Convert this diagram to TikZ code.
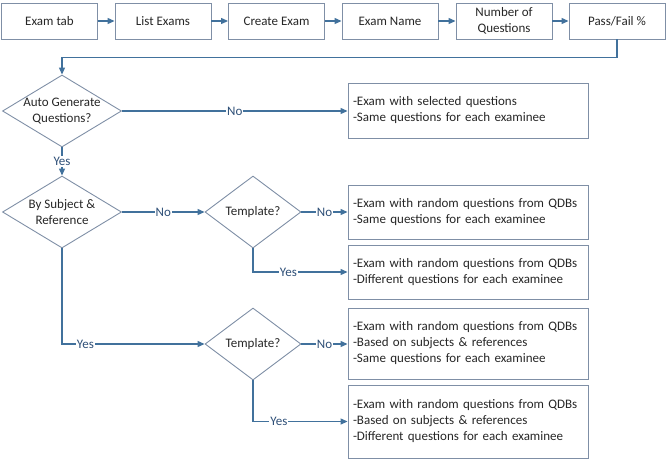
\documentclass[tikz,border=0pt]{standalone}
\usepackage{fontspec}
\setmainfont{Carlito}
\usetikzlibrary{shapes.geometric,arrows.meta}
\definecolor{boxline}{HTML}{7F8FA6}
\definecolor{conn}{HTML}{41719C}
\definecolor{lbl}{HTML}{2F5078}
\begin{document}
\begin{tikzpicture}[x=1pt,y=-1pt,
  every node/.style={font=\fontsize{13}{16}\selectfont, text=black!85},
  topbox/.style={draw=boxline, line width=0.9pt, minimum width=96pt, minimum height=36pt, inner sep=0pt, align=center},
  resbox/.style={draw=boxline, line width=0.9pt, minimum width=240pt, text width=230pt, inner xsep=5pt, inner ysep=0pt, align=left},
  dia/.style={draw=boxline, line width=0.9pt, shape=diamond, inner sep=0pt},
  arr/.style={draw=conn, line width=1.2pt, -{Triangle[length=7pt,width=6pt]}},
  lab/.style={fill=white, inner sep=1pt, text=lbl, font=\fontsize{13}{14}\selectfont}
]
\useasboundingbox (0,0) rectangle (667,459);
% top row
\node[topbox] (t1) at (49.5,21) {Exam tab};
\node[topbox] (t2) at (163,21) {List Exams};
\node[topbox] (t3) at (276.5,21) {Create Exam};
\node[topbox] (t4) at (390,21) {Exam Name};
\node[topbox] (t5) at (504,21) {Number of\\Questions};
\node[topbox] (t6) at (617,21) {Pass/Fail \%};
\draw[arr] (t1) -- (t2);
\draw[arr] (t2) -- (t3);
\draw[arr] (t3) -- (t4);
\draw[arr] (t4) -- (t5);
\draw[arr] (t5) -- (t6);
% diamonds
\node[dia, minimum width=119pt, minimum height=72pt] (d1) at (62,111) {};
\node[align=center] (d1t) at (d1) {Auto Generate\\Questions?};
\node[dia, minimum width=119pt, minimum height=72pt] (d2) at (62,212) {};
\node[align=center] (d2t) at (d2) {By Subject \&\\Reference};
\node[dia, minimum width=96pt, minimum height=72pt] (d3) at (253,212) {};
\node (d3t) at (d3) {Template?};
\node[dia, minimum width=96pt, minimum height=72pt] (d4) at (253,344) {};
\node (d4t) at (d4) {Template?};
% result boxes
\node[resbox, minimum height=55pt] (r0) at (468,110.5) {-Exam with selected questions\\-Same questions for each examinee};
\node[resbox, minimum height=54pt] (r1) at (468,212) {-Exam with random questions from QDBs\\-Same questions for each examinee};
\node[resbox, minimum height=54pt] (r2) at (468,272) {-Exam with random questions from QDBs\\-Different questions for each examinee};
\node[resbox, minimum height=71pt] (r3) at (468,343.5) {-Exam with random questions from QDBs\\-Based on subjects \& references\\-Same questions for each examinee};
\node[resbox, minimum height=73pt] (r4) at (468,421.5) {-Exam with random questions from QDBs\\-Based on subjects \& references\\-Different questions for each examinee};
% connectors
\draw[arr] (t6.south) -- ++(0,18) -| (d1.north);
\draw[arr] (d1.east) -- node[lab] (l1) {No} (d1.east -| r0.west);
\draw[arr] (d1.south) -- node[lab] (l2) {Yes} (d2.north);
\draw[arr] (d2.east) -- node[lab] (l3) {No} (d3.west);
\draw[arr] (d3.east) -- node[lab] (l4) {No} (d3.east -| r1.west);
\draw[arr] (d3.south) |- node[lab, pos=0.687] (l5) {Yes} (r2.west);
\draw[arr] (d2.south) |- node[lab, pos=0.582] (l6) {Yes} (d4.west);
\draw[arr] (d4.east) -- node[lab] (l7) {No} (d4.east -| r3.west);
\draw[arr] (d4.south) |- node[lab, pos=0.637] (l8) {Yes} (r4.west);
\end{tikzpicture}
\end{document}
